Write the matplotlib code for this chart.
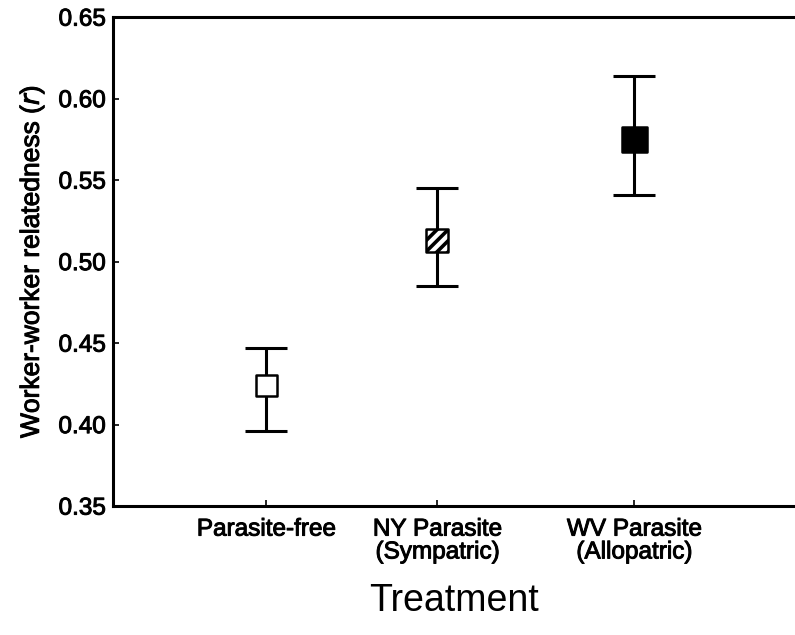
import matplotlib
matplotlib.use("Agg")
import matplotlib.pyplot as plt
import matplotlib.patheffects as pe

# data
treatments = ["Parasite-free", "NY Parasite\n(Sympatric)", "WV Parasite\n(Allopatric)"]
xpos = [1.0, 2.0, 3.15]
means = [0.424, 0.513, 0.575]
upper = [0.447, 0.545, 0.614]
lower = [0.396, 0.485, 0.541]
faces = ["white", "white", "black"]
hatches = ["", "///", ""]
sizes = [15, 16, 18]

yticks = [0.35, 0.40, 0.45, 0.50, 0.55, 0.60, 0.65]

plt.rcParams["font.family"] = ["Liberation Sans", "DejaVu Sans"]
plt.rcParams["hatch.linewidth"] = 2.6

# slightly heavier text, like the scanned original
heavy = [pe.withStroke(linewidth=0.7, foreground="black")]

fig = plt.figure(figsize=(7.95, 6.35), dpi=100)
ax = fig.add_axes([0.142, 0.203, 0.858, 0.770])

for i in range(len(xpos)):
    ax.errorbar(xpos[i], means[i],
                yerr=[[means[i] - lower[i]], [upper[i] - means[i]]],
                fmt="none", ecolor="black", elinewidth=2.2,
                capsize=15, capthick=2.2, zorder=1)
    ax.scatter(xpos[i], means[i], marker="s", s=sizes[i] ** 2,
               facecolor=faces[i], edgecolor="black", linewidths=1.8,
               hatch=hatches[i], zorder=3)

ax.set_xlim(0.105, 4.09)
ax.set_ylim(0.35, 0.65)
ax.set_yticks(yticks)
ax.set_yticklabels(["%.2f" % t for t in yticks])
ax.set_xticks(xpos)
ax.set_xticklabels(treatments)

ax.tick_params(direction="in", length=4, width=1.2, labelsize=17.5, pad=5)
ax.tick_params(axis="x", pad=9)
for lab in ax.get_xticklabels() + ax.get_yticklabels():
    lab.set_path_effects(heavy)
    lab.set_linespacing(1.05)

for s in ["left", "top", "bottom"]:
    ax.spines[s].set_linewidth(2.2)
ax.spines["right"].set_visible(False)

yl = ax.set_ylabel("Worker-worker relatedness ($\\it{r}$)", fontsize=19, labelpad=9)
yl.set_path_effects(heavy)
ax.set_xlabel("Treatment", fontsize=27, labelpad=14)

fig.savefig("out.png", dpi=100)
